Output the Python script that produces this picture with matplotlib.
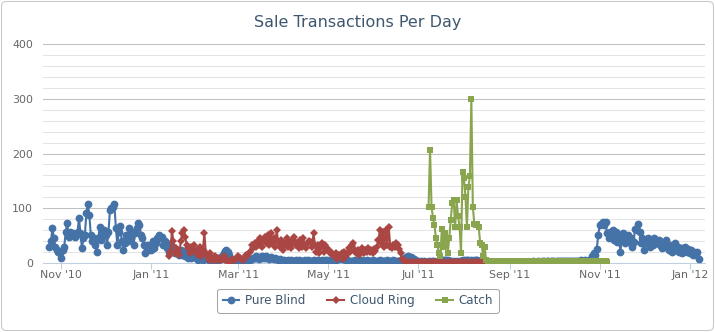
import numpy as np
import pandas as pd
import matplotlib
matplotlib.use("Agg")
import matplotlib.pyplot as plt
import matplotlib.dates as mdates
from matplotlib.patches import FancyBboxPatch
from matplotlib.transforms import IdentityTransform

# Datos diarios
blind_start = "2010-10-24"
pure_blind = [
    # oct - dic 2010
    29, 40, 64, 45, 30, 24, 21, 18, 10, 24, 30, 57, 73, 48, 57, 52, 55, 48, 52, 57,
    82, 55, 27, 45, 52, 91, 108, 88, 52, 40, 45, 33, 20, 45, 65, 42, 52, 61, 52, 33,
    57, 97, 100, 103, 107, 64, 33, 57, 67, 40, 24, 36, 52, 40, 64, 45,
    # dic 2010 - feb 2011
    57, 33, 55, 64, 73, 70, 52, 45, 33, 18, 33, 24, 33, 24, 40, 27, 36, 45, 52, 45,
    48, 33, 40, 36, 27, 21, 33, 27, 30, 18, 24, 18, 15, 24, 15, 21, 12, 18, 9, 15,
    9, 12, 15, 9, 12, 6, 9, 12, 6, 9, 15, 9, 6, 4, 6, 3, 4,
    8, 6, 9, 7, 12, 18, 22, 24, 20, 14, 8, 5,
    # mar - jun 2011
    4, 3, 5, 4, 6, 3, 4, 5, 3, 4, 6, 5,
    8, 10, 9, 12, 10, 8, 11, 13, 9, 10, 12, 9, 8, 11, 10, 7, 9, 8, 6, 7,
    5, 4, 5, 3, 4, 5, 4, 6, 4, 3, 5, 4, 5, 4, 3, 4, 5, 4, 5, 3,
    4, 4, 5, 3, 4, 5, 4, 3, 5, 4, 6, 5, 4, 5, 3, 4, 5, 6, 7, 8,
    9, 8, 7, 8, 6, 5, 4,
    4, 3, 4, 5, 4, 3, 4, 4, 5, 3, 4, 5, 4, 4, 3, 5, 4, 4, 3, 4,
    5, 4, 3, 4, 4, 5, 4, 3, 4, 5, 4, 4, 3, 4, 5, 6, 8, 9,
    # jul - oct 2011
    11, 12, 10, 11, 9, 7, 5, 4, 3,
    2, 3, 2, 3, 2, 2, 3, 2, 3, 2, 3, 2, 2, 3, 4, 5, 6, 5, 6, 5,
    4, 3, 2, 3, 2, 3, 2, 3, 4, 5, 4, 5, 6, 5, 4, 5, 4, 5, 6, 5,
    4, 3, 2, 2, 3, 2, 2, 1, 2, 1, 2, 1, 1, 2, 1, 1, 2, 1,
    1, 1, 2, 1, 1, 2, 1, 2, 2, 1, 2, 2, 1, 2, 2, 2, 1, 2, 2, 3,
    2, 2, 3, 2, 2, 3, 3, 2, 3, 3, 2, 3, 3, 3, 2, 3, 3, 4, 3, 3,
    4, 3, 4, 4, 3, 4, 4, 4, 3, 4, 4, 5, 4, 4, 5, 4, 4, 5, 4,
    # oct 2011 - ene 2012
    12, 18, 15, 25, 51, 69, 72, 75, 69, 75, 54, 45, 57, 48, 60, 42, 57, 39, 51, 21,
    42, 54, 36, 48, 51, 39, 45, 30, 39, 63, 60, 72, 57, 36, 45, 24, 42, 36, 45, 30,
    39, 33, 45, 40, 36, 42, 33, 27, 36, 30, 42, 30, 24, 33, 21, 30, 36, 24, 30, 21,
    27, 18, 24, 30, 20, 26, 18, 24, 15, 21, 15, 21, 7,
]

ring_start = "2011-01-13"
cloud_ring = [
    12, 21, 59, 40, 18, 27, 24, 15, 40, 55, 61, 48, 33, 27, 18, 30, 24, 33, 18, 24,
    15, 30, 12, 24, 55, 18, 12, 6, 18, 9, 6, 12, 6, 9, 6,
    5, 8, 12, 6, 5, 3, 2, 4, 8, 6, 5, 9, 12, 10, 8, 6, 9,
    15, 12, 18, 21, 33, 27, 36, 30, 39, 33, 45, 30, 42, 48, 36, 51, 33, 54, 36, 45,
    30, 61, 39, 30, 42, 24, 36, 33, 45, 30, 39, 27, 42, 48, 33, 36, 27, 42, 30, 45,
    33, 27, 36, 40, 39, 30, 54, 33, 21,
    33, 18, 30, 36, 21, 33, 27, 24, 18, 21, 15, 12, 18, 8, 15, 12, 18, 8, 21, 12,
    18, 27, 21, 33, 36, 24, 18, 24, 15, 21, 27, 18, 24, 21, 27, 21, 24, 19, 26, 22,
    30, 42, 60, 36, 57, 30, 60, 33, 66, 30, 27, 33, 29, 36, 33, 25, 18, 8, 5, 2,
    1, 1, 1, 0, 1, 1, 0, 1, 1, 0, 1, 0, 1, 1, 0, 1, 0, 1, 1, 0,
    1, 0, 1, 1, 0, 1, 0, 0, 1, 0, 1, 1, 0, 1, 0, 1, 0, 1, 1, 0,
    1, 0, 1, 0, 0, 1, 0, 1, 1, 0, 1, 0, 1, 0, 1, 0, 0, 1, 0, 1,
    0, 1, 0, 1, 0,
]

catch_start = "2011-07-08"
catch = [
    103, 207, 103, 82, 69, 45, 33, 18, 12, 63, 30, 54, 39, 18, 45, 78, 109, 115, 66, 115,
    85, 66, 18, 167, 155, 121, 66, 139, 158, 300, 103, 72, 69, 72, 66, 36, 33, 12, 30, 5,
    3, 2, 3, 2, 2, 3, 2, 3, 2, 2, 3, 2, 2, 3, 2, 3, 2, 2, 3, 2,
    2, 3, 2, 2, 3, 2, 3, 2, 2, 3, 2, 2, 3, 2, 3, 2, 2, 3, 2, 2,
    3, 2, 2, 3, 2, 3, 2, 2, 3, 2, 2, 3, 2, 3, 2, 2, 3, 2, 2, 3,
    2, 3, 2, 2, 3, 2, 2, 3, 2, 3, 2, 2, 3, 2, 2, 3, 2, 3, 2, 2,
    3, 2,
]

series_names = ["Pure Blind", "Cloud Ring", "Catch"]
colores = ["#4572A7", "#AA4643", "#89A54E"]
marcadores = ["o", "D", "s"]
tamanos = [5.6, 3.6, 4.0]

tick_labels = ["Nov '10", "Jan '11", "Mar '11", "May '11", "Jul '11",
               "Sep '11", "Nov '11", "Jan '12"]
titulo = "Sale Transactions Per Day"

fig = plt.figure(figsize=(7.15, 3.32), dpi=100)
ax = fig.add_axes([43 / 715, 69 / 332, 662 / 715, 219 / 332])

datos = [(blind_start, pure_blind), (ring_start, cloud_ring), (catch_start, catch)]
lineas = []
for i, (inicio, valores) in enumerate(datos):
    fechas = pd.date_range(inicio, periods=len(valores), freq="D")
    (ln,) = ax.plot(fechas, valores, color=colores[i], lw=1.5,
                    marker=marcadores[i], ms=tamanos[i], mew=0,
                    label=series_names[i], zorder=3 + i)
    lineas.append(ln)

ax.set_ylim(0, 400)
ax.margins(x=0.01)

# rejilla
ax.set_yticks(np.arange(0, 401, 100))
ax.set_yticks(np.arange(0, 401, 20), minor=True)
ax.grid(True, axis="y", which="minor", color="#E4E4E4", lw=0.75, zorder=0)
ax.grid(True, axis="y", which="major", color="#C0C0C0", lw=0.75, zorder=1)
ax.set_axisbelow(True)

for lado in ["top", "right", "left"]:
    ax.spines[lado].set_visible(False)
ax.spines["bottom"].set_color("#C0D0E0")
ax.spines["bottom"].set_linewidth(0.75)

tick_fechas = pd.date_range("2010-11-01", periods=len(tick_labels), freq="2MS")
ax.set_xticks(tick_fechas)
ax.set_xticklabels(tick_labels)
ax.tick_params(axis="x", colors="#C0D0E0", length=4, width=0.75, pad=1,
               labelcolor="#666666", labelsize=7.9)
ax.tick_params(axis="y", which="both", length=0, pad=7,
               labelcolor="#666666", labelsize=7.9)

fig.text(0.5, 1 - 22 / 332, titulo, ha="center", va="center",
         color="#3E576F", fontsize=11.5)

leg = fig.legend(handles=lineas, loc="center",
                 bbox_to_anchor=(358 / 715, 1 - 300.8 / 332), ncol=3,
                 frameon=True, fancybox=True, fontsize=8.6, handlelength=1.4,
                 handletextpad=0.5, columnspacing=1.8, borderpad=0.45,
                 labelcolor="#3E576F")
leg.get_frame().set_edgecolor("#909090")
leg.get_frame().set_linewidth(0.75)

# borde exterior redondeado
borde = FancyBboxPatch((1.5, 1.5), 712, 329, boxstyle="round,pad=0,rounding_size=5",
                       transform=IdentityTransform(), fill=False,
                       ec="#C8C8C8", lw=0.75)
fig.patches.append(borde)

fig.savefig("out.png", dpi=100)
